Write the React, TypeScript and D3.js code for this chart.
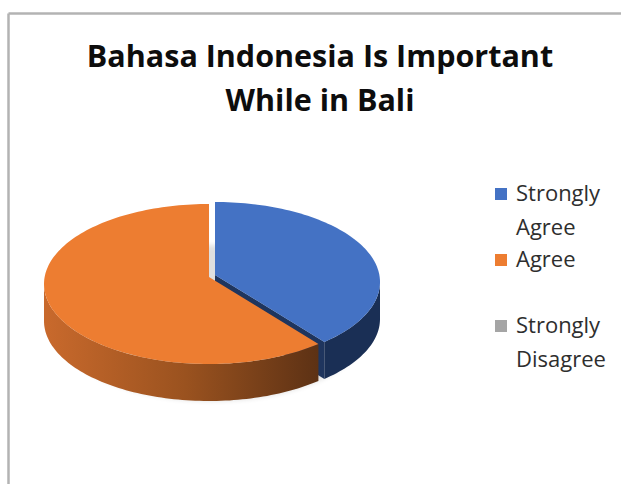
import React from "react";
import * as d3 from "d3";

// ---- data ----
const categories: string[] = ["Strongly Agree", "Agree", "Strongly Disagree"];
const values: number[] = [5, 8, 0];
const titleLines: string[] = ["Bahasa Indonesia Is Important", "While in Bali"];
const legendLabelLines: string[][] = [["Strongly", "Agree"], ["Agree"], ["Strongly", "Disagree"]];
const topColors: string[] = ["#4472C4", "#ED7D31", "#A5A5A5"];
const sideColors: string[][] = [
  ["#2a4a80", "#1d3560", "#1a2f55"],
  ["#c8692c", "#9a521f", "#5a3014"],
  ["#8a8a8a", "#6a6a6a", "#4a4a4a"],
];
const radialColors: string[] = ["#1f355e", "#8a4a1c", "#6a6a6a"];

const W = 621;
const H = 484;

export default function App() {
  const cx = 212;
  const cy = 283;
  const rx = 165;
  const ry = 80;
  const depth = 37;
  const lift = 7;
  const offsets: [number, number][] = [[3, -1], [-3, 1], [0, 0]];

  const pie = d3.pie<number>().sort(null).startAngle(0).endAngle(2 * Math.PI);
  const arcs = pie(values);

  const P = (t: number, o: [number, number], dy = 0): [number, number] => [
    cx + o[0] + rx * Math.sin(t),
    cy + o[1] - ry * Math.cos(t) + dy,
  ];
  const line = d3.line<[number, number]>();
  const sample = (a0: number, a1: number, o: [number, number], dy = 0) => {
    const n = Math.max(2, Math.ceil(((a1 - a0) / (2 * Math.PI)) * 240));
    return d3.range(n + 1).map((i) => P(a0 + ((a1 - a0) * i) / n, o, dy));
  };

  const slices = arcs
    .map((a, i) => ({ a, i }))
    .filter((s) => s.a.endAngle - s.a.startAngle > 1e-6);

  return (
    <svg
      width={W}
      height={H}
      style={{ position: "absolute", left: 0, top: 0, background: "#ffffff" }}
    >
      <defs>
        {slices.map(({ i }) => (
          <linearGradient
            key={i}
            id={`side${i}`}
            gradientUnits="userSpaceOnUse"
            x1={cx - rx}
            x2={cx + rx * 0.68}
            y1={0}
            y2={0}
          >
            <stop offset="0" stopColor={sideColors[i][0]} />
            <stop offset="0.5" stopColor={sideColors[i][1]} />
            <stop offset="1" stopColor={sideColors[i][2]} />
          </linearGradient>
        ))}
        <filter id="blur" x="-20%" y="-20%" width="140%" height="140%">
          <feGaussianBlur stdDeviation="2.5" />
        </filter>
      </defs>

      {/* frame */}
      <line x1={8.5} y1={13.5} x2={W} y2={13.5} stroke="#b3b3b3" strokeWidth={2.5} />
      <line x1={8.5} y1={13.5} x2={8.5} y2={H} stroke="#b3b3b3" strokeWidth={2.5} />

      {/* title */}
      {titleLines.map((t, k) => (
        <text
          key={k}
          x={320}
          y={67 + k * 44}
          textAnchor="middle"
          fontFamily="'Open Sans', sans-serif"
          fontWeight={700}
          fontSize={30.5}
          fill="#0d0d0d"
        >
          {t}
        </text>
      ))}

      {/* shadow */}
      <ellipse
        cx={cx}
        cy={cy + depth + 3}
        rx={rx - 6}
        ry={ry - 2}
        fill="#000"
        opacity={0.12}
        filter="url(#blur)"
      />

      {/* pie */}
      {slices.map(({ a, i }) => {
        const o = offsets[i];
        const a0 = a.startAngle;
        const a1 = a.endAngle;
        const V: [number, number] = [cx + o[0], cy + o[1] - lift];
        const Vb: [number, number] = [V[0], V[1] + depth];
        const parts: React.ReactNode[] = [];
        if (Math.sin(a1) > 1e-3) {
          const p = P(a1, o);
          const pb = P(a1, o, depth);
          parts.push(
            <path key="r1" d={line([V, p, pb, Vb])! + "Z"} fill={radialColors[i]} />
          );
        }
        if (Math.sin(a0) < -1e-3) {
          const p = P(a0, o);
          const pb = P(a0, o, depth);
          parts.push(
            <path key="r0" d={line([V, p, pb, Vb])! + "Z"} fill={radialColors[i]} />
          );
        }
        const s0 = Math.max(a0, Math.PI / 2);
        const s1 = Math.min(a1, (3 * Math.PI) / 2);
        if (s1 > s0) {
          const topPts = sample(s0, s1, o);
          const botPts = sample(s0, s1, o, depth).reverse();
          parts.push(
            <path
              key="side"
              d={line([...topPts, ...botPts])! + "Z"}
              fill={`url(#side${i})`}
            />
          );
        }
        const topFace = [V, ...sample(a0, a1, o)];
        parts.push(
          <path key="top" d={line(topFace)! + "Z"} fill={topColors[i]} />
        );
        return <g key={i}>{parts}</g>;
      })}

      {/* legend */}
      {categories.map((c, i) => {
        const y0 = 201 + i * 66;
        return (
          <g key={c}>
            <rect x={495} y={y0 - 13} width={12} height={12} fill={topColors[i]} />
            {legendLabelLines[i].map((ln, k) => (
              <text
                key={k}
                x={516}
                y={y0 + k * 34}
                fontFamily="'Open Sans', sans-serif"
                fontSize={22}
                fill="#2e2e2e"
              >
                {ln}
              </text>
            ))}
          </g>
        );
      })}
    </svg>
  );
}
